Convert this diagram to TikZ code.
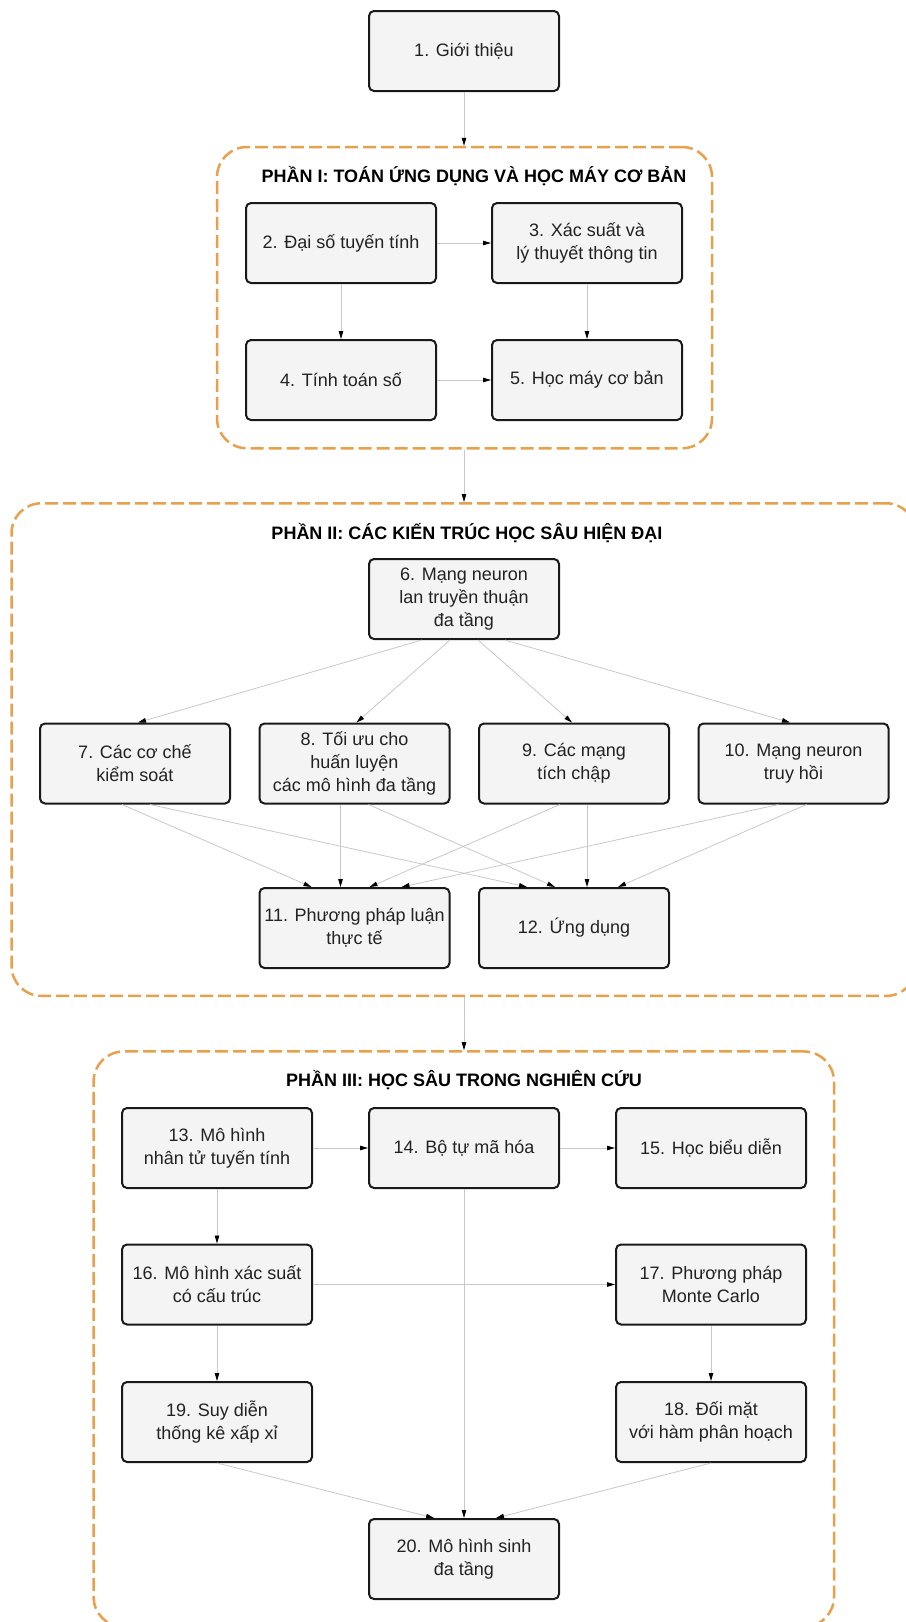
\documentclass[tikz,border=0pt]{standalone}
\usepackage{fontspec}
\setmainfont{Liberation Sans}
\usetikzlibrary{arrows.meta}
\definecolor{grp}{HTML}{E9A04C}
\definecolor{nodefill}{HTML}{F4F4F4}
\definecolor{edgec}{HTML}{C8C8C8}
\definecolor{txt}{HTML}{222222}
\begin{document}
\begin{tikzpicture}[x=1pt,y=-1pt,
  box/.style={draw=black!90, line width=2pt, fill=nodefill, rounded corners=5pt,
    minimum width=190pt, minimum height=80pt, inner sep=0pt, align=center,
    font=\fontsize{18}{23}\selectfont, text=txt},
  groupbox/.style={draw=grp, line width=2.5pt, dash pattern=on 13pt off 5pt,
    rounded corners=30pt, inner sep=0pt},
  grouptitle/.style={font=\bfseries\fontsize{18}{22}\selectfont, text=black, inner sep=0pt},
  edge/.style={draw=edgec, line width=0.8pt, -{Triangle[length=8pt,width=4.5pt,color=black]}}]
\useasboundingbox (0,0) rectangle (905,1622);

% groups
\node[groupbox, minimum width=495pt, minimum height=301.3pt] (p1) at (464.5,297.65) {};
\node[groupbox, minimum width=904.5pt, minimum height=492.7pt] (p2) at (463.75,749.6) {};
\node[groupbox, minimum width=740.4pt, minimum height=575.5pt] (p3) at (463.8,1339.2) {};
\node[grouptitle] (t1) at (474,175.7) {PHẦN I: TOÁN ỨNG DỤNG VÀ HỌC MÁY CƠ BẢN};
\node[grouptitle] (t2) at (467,533) {PHẦN II: CÁC KIẾN TRÚC HỌC SÂU HIỆN ĐẠI};
\node[grouptitle] (t3) at (464,1080) {PHẦN III: HỌC SÂU TRONG NGHIÊN CỨU};

% nodes
\node[box] (n1) at (464,51) {1. Giới thiệu};
\node[box] (n2) at (341,243) {2. Đại số tuyến tính};
\node[box] (n3) at (587,243) {3. Xác suất và\\lý thuyết thông tin};
\node[box] (n4) at (341,380) {4. Tính toán số};
\node[box] (n5) at (587,380) {5. Học máy cơ bản};
\node[box] (n6) at (464,599) {6. Mạng neuron\\lan truyền thuận\\đa tầng};
\node[box] (n7) at (135,763.5) {7. Các cơ chế\\kiểm soát};
\node[box] (n8) at (354.5,763.5) {8. Tối ưu cho\\huấn luyện\\các mô hình đa tầng};
\node[box] (n9) at (574,763.5) {9. Các mạng\\tích chập};
\node[box] (n10) at (793.5,763.5) {10. Mạng neuron\\truy hồi};
\node[box] (n11) at (354.5,928) {11. Phương pháp luận\\thực tế};
\node[box] (n12) at (574,928) {12. Ứng dụng};
\node[box] (n13) at (217,1148) {13. Mô hình\\nhân tử tuyến tính};
\node[box] (n14) at (464,1148) {14. Bộ tự mã hóa};
\node[box] (n15) at (711,1148) {15. Học biểu diễn};
\node[box] (n16) at (217,1284.5) {16. Mô hình xác suất\\có cấu trúc};
\node[box] (n17) at (711,1284.5) {17. Phương pháp\\Monte Carlo};
\node[box] (n19) at (217,1422) {19. Suy diễn\\thống kê xấp xỉ};
\node[box] (n18) at (711,1422) {18. Đối mặt\\với hàm phân hoạch};
\node[box] (n20) at (464,1559) {20. Mô hình sinh\\đa tầng};

% part links
\draw[edge] (n1.south) -- (n1.south |- p1.north);
\draw[edge] (n1.south |- p1.south) -- (n1.south |- p2.north);
\draw[edge] (n1.south |- p2.south) -- (n1.south |- p3.north);

% part I
\draw[edge] (n2.east) -- (n3.west);
\draw[edge] (n2.south) -- (n4.north);
\draw[edge] (n3.south) -- (n5.north);
\draw[edge] (n4.east) -- (n5.west);

% part II
\draw[edge] ([xshift=-42pt]n6.south) -- ([xshift=3pt]n7.north);
\draw[edge] ([xshift=-14pt]n6.south) -- ([xshift=2pt]n8.north);
\draw[edge] ([xshift=14pt]n6.south) -- ([xshift=-2pt]n9.north);
\draw[edge] ([xshift=41pt]n6.south) -- ([xshift=-3.5pt]n10.north);
\draw[edge] ([xshift=-13pt]n7.south) -- ([xshift=-43pt]n11.north);
\draw[edge] ([xshift=15pt]n7.south) -- ([xshift=-47pt]n12.north);
\draw[edge] ([xshift=-14pt]n8.south) -- ([xshift=-14pt]n11.north);
\draw[edge] ([xshift=14pt]n8.south) -- ([xshift=-19pt]n12.north);
\draw[edge] ([xshift=-14pt]n9.south) -- ([xshift=15pt]n11.north);
\draw[edge] ([xshift=13pt]n9.south) -- ([xshift=13pt]n12.north);
\draw[edge] ([xshift=-15pt]n10.south) -- ([xshift=47pt]n11.north);
\draw[edge] ([xshift=13pt]n10.south) -- ([xshift=44pt]n12.north);

% part III
\draw[edge] (n13.east) -- (n14.west);
\draw[edge] (n14.east) -- (n15.west);
\draw[edge] (n13.south) -- (n16.north);
\draw[edge] (n16.east) -- (n17.west);
\draw[edge] (n16.south) -- (n19.north);
\draw[edge] (n17.south) -- (n18.north);
\draw[edge] (n14.south) -- (n20.north);
\draw[edge] (n19.south) -- ([xshift=-30pt]n20.north);
\draw[edge] (n18.south) -- ([xshift=32pt]n20.north);
\end{tikzpicture}
\end{document}
